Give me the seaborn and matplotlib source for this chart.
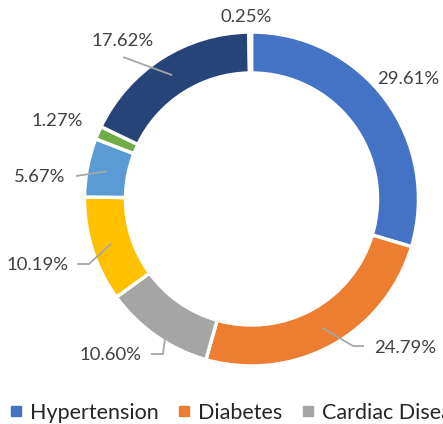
import matplotlib
matplotlib.use("Agg")
import matplotlib.pyplot as plt
from matplotlib.lines import Line2D
import numpy as np
import seaborn as sns

# --- DATA ---
shares = [29.61, 24.79, 10.60, 10.19, 5.67, 1.27, 17.62, 0.25]
pct_labels = ["29.61%", "24.79%", "10.60%", "10.19%", "5.67%", "1.27%", "17.62%", "0.25%"]
legend_names = ["Hypertension", "Diabetes", "Cardiac Disease"]

# Excel office palette
colors = ["#4472C4", "#ED7D31", "#A5A5A5", "#FFC000", "#5B9BD5", "#70AD47", "#264478", "#9E480E"]

# --- LAYOUT (pixels, y measured from top) ---
W, H = 443, 424
center_px = (251.5, 199)
outer_r = 167
ring_w = 41
label_pos = [(408, 79), (405, 348), (111, 355), (38, 265), (40, 177), (57, 121), (123, 41), (246, 17)]
leader_bends = [None, [(353, 346), (364, 346)], [(163, 354), (151, 354)], [(89, 264), (77, 264)],
                [(76, 176)], None, [(123, 57)], None]


def px(x, y):
    return x, H - y


sns.set_theme(style="white")
plt.rcParams["font.family"] = ["Lato", "DejaVu Sans"]

fig = plt.figure(figsize=(W / 100, H / 100), dpi=100)
ax = fig.add_axes([0, 0, 1, 1])

wedges, _ = ax.pie(shares, colors=colors, startangle=90, counterclock=False,
                   center=px(*center_px), radius=outer_r, frame=True,
                   wedgeprops=dict(width=ring_w, edgecolor="white", linewidth=2.5))

# percentage labels + leader lines (start at the middle of each ring slice)
cx, cy = px(*center_px)
for w, lab, pos, bends in zip(wedges, pct_labels, label_pos, leader_bends):
    ax.text(*px(*pos), lab, ha="center", va="center", fontsize=13.3, color="#404040")
    if bends is None:
        continue
    mid = np.deg2rad((w.theta1 + w.theta2) / 2)
    start = (cx + 147 * np.cos(mid), cy + 147 * np.sin(mid))
    pts = [start] + [px(*b) for b in bends]
    xs, ys = zip(*pts)
    ax.plot(xs, ys, color="#A6A6A6", lw=1.3, solid_capstyle="butt")

# legend runs past the right edge, as in the original
handles = [Line2D([], [], marker="s", linestyle="none", markersize=6.5,
                  markerfacecolor=c, markeredgecolor=c) for c in colors[:3]]
ax.legend(handles, legend_names, loc="center left", bbox_to_anchor=px(-2.5, 413),
          bbox_transform=ax.transData, ncol=3, frameon=False, fontsize=15.5,
          handlelength=0.7, handletextpad=0.3, columnspacing=0.85, borderpad=0,
          labelcolor="#262626")

ax.set_xlim(0, W)
ax.set_ylim(0, H)
ax.set_aspect("equal")
ax.axis("off")

fig.savefig("out.png", dpi=100)
